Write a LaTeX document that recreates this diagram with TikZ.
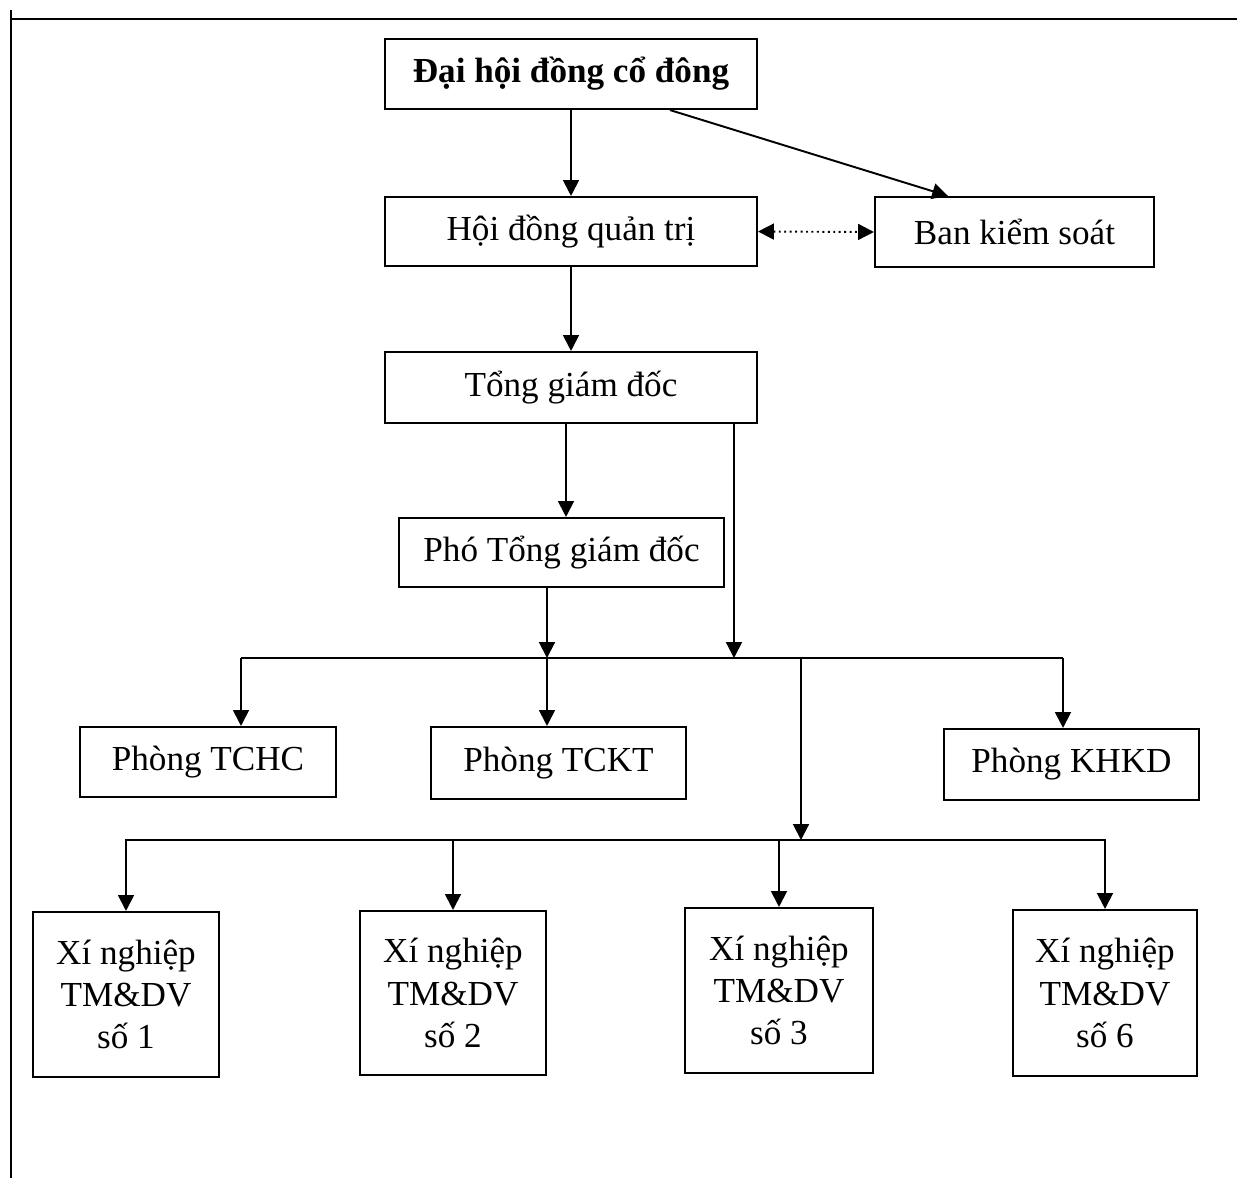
\documentclass[tikz,border=0pt]{standalone}
\usepackage{fontspec}
\setmainfont{Liberation Serif}
\usetikzlibrary{arrows.meta}

\begin{document}
\begin{tikzpicture}[x=0.02cm, y=-0.02cm,
    box/.style={draw=borderColour, line width=1.2pt, rectangle, inner sep=0pt, align=center,
        font=\fontsize{20}{24}\selectfont},
    link/.style={draw=borderColour, line width=1.1pt},
    arrowLine/.style={link, -{Triangle[length=9pt,width=9pt]}},
    dottedArrow/.style={draw=borderColour, line width=1.1pt, dotted,
        {Triangle[length=9pt,width=9pt]}-{Triangle[length=9pt,width=9pt]}}]
    \definecolor{borderColour}{HTML}{000000}

    \useasboundingbox (0,0) rectangle (1237,1178);

    % Page frame
    \draw[link] (11,19) -- (1237,19);
    \draw[link] (11,10) -- (11,1178);

    % Top levels
    \node[box, minimum width=7.44cm, minimum height=1.40cm, font=\fontsize{20}{24}\selectfont\bfseries] (dhdcd) at (571,74) {Đại hội đồng cổ đông};
    \node[box, minimum width=7.44cm, minimum height=1.38cm] (hdqt) at (571,231.5) {Hội đồng quản trị};
    \node[box, minimum width=5.58cm, minimum height=1.40cm] (bks) at (1014.5,232) {Ban kiểm soát};
    \node[box, minimum width=7.44cm, minimum height=1.42cm] (tgd) at (571,387.5) {Tổng giám đốc};
    \node[box, minimum width=6.50cm, minimum height=1.38cm] (ptgd) at (561.5,552.5) {Phó Tổng giám đốc};

    % Departments
    \node[box, minimum width=5.12cm, minimum height=1.40cm] (tchc) at (208,762) {Phòng TCHC};
    \node[box, minimum width=5.10cm, minimum height=1.44cm] (tckt) at (558.5,763) {Phòng TCKT};
    \node[box, minimum width=5.10cm, minimum height=1.42cm] (khkd) at (1071.5,764.5) {Phòng KHKD};

    % Enterprises
    \node[box, minimum width=3.72cm, minimum height=3.30cm] (xn1) at (126,994.5) {Xí nghiệp\\TM\&DV\\số 1};
    \node[box, minimum width=3.72cm, minimum height=3.28cm] (xn2) at (453,993) {Xí nghiệp\\TM\&DV\\số 2};
    \node[box, minimum width=3.76cm, minimum height=3.30cm] (xn3) at (779,990.5) {Xí nghiệp\\TM\&DV\\số 3};
    \node[box, minimum width=3.68cm, minimum height=3.32cm] (xn6) at (1105,993) {Xí nghiệp\\TM\&DV\\số 6};

    % Bus lines
    \coordinate (busTopL) at (241,658);
    \coordinate (busTopR) at (1063,658);
    \coordinate (busTap) at (801,658);
    \coordinate (busLowL) at (125,840);
    \coordinate (busLowR) at (1106,840);
    \coordinate (tckDrop) at (547,658);

    % Upper connectors
    \draw[arrowLine] (dhdcd.south) -- (hdqt.north);
    \draw[arrowLine] ([xshift=1.98cm]dhdcd.south) -- ([xshift=-1.33cm]bks.north);
    \draw[dottedArrow] (hdqt.east) -- (bks.west);
    \draw[arrowLine] (hdqt.south) -- (tgd.north);
    \draw[arrowLine] ([xshift=-0.10cm]tgd.south) -- ([xshift=-0.10cm]tgd.south |- ptgd.north);
    \draw[arrowLine] ([xshift=3.26cm]tgd.south) -- ([xshift=3.26cm]tgd.south |- busTopL);
    \draw[arrowLine] (tckDrop |- ptgd.south) -- (tckDrop);

    % Departments bus
    \draw[link] (busTopL) -- (busTopR);
    \draw[arrowLine] (busTopL) -- (busTopL |- tchc.north);
    \draw[arrowLine] (tckDrop) -- (tckDrop |- tckt.north);
    \draw[arrowLine] (busTopR) -- (busTopR |- khkd.north);
    \draw[arrowLine] (busTap) -- (busTap |- busLowL);

    % Enterprises bus
    \draw[link] (busLowL) -- (busLowR);
    \draw[arrowLine] (xn1.north |- busLowL) -- (xn1.north);
    \draw[arrowLine] (xn2.north |- busLowL) -- (xn2.north);
    \draw[arrowLine] (xn3.north |- busLowL) -- (xn3.north);
    \draw[arrowLine] (xn6.north |- busLowL) -- (xn6.north);

\end{tikzpicture}
\end{document}
